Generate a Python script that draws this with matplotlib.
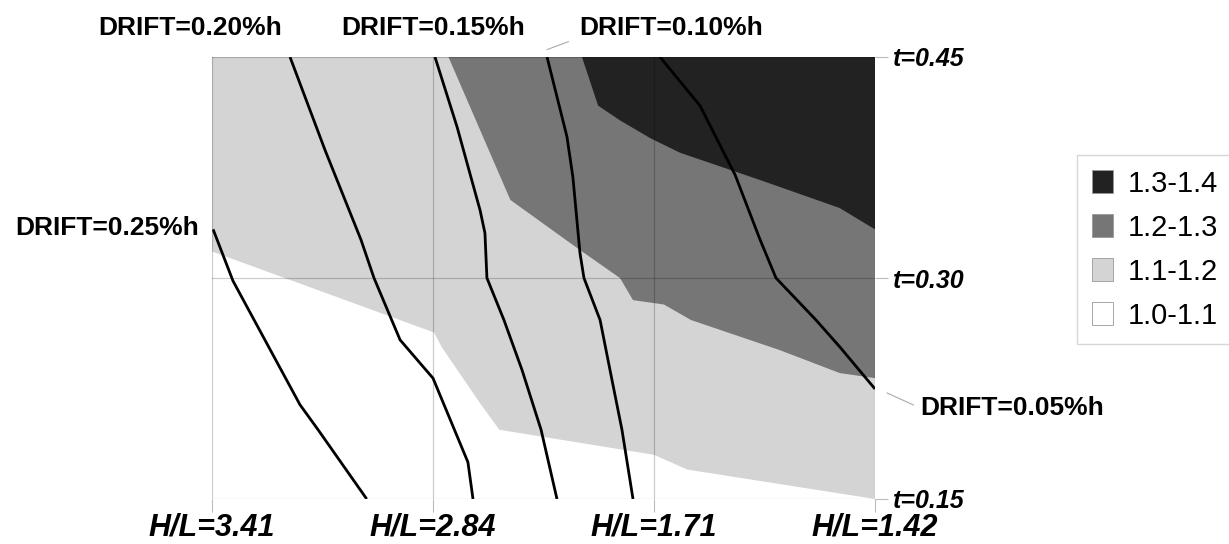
import matplotlib
matplotlib.use("Agg")
import matplotlib.pyplot as plt
from matplotlib.patches import Patch

# categories and levels
hl_labels = ['H/L=3.41', 'H/L=2.84', 'H/L=1.71', 'H/L=1.42']
t_values = [0.45, 0.30, 0.15]
t_labels = ['t=0.45', 't=0.30', 't=0.15']
bands = ['1.3-1.4', '1.2-1.3', '1.1-1.2', '1.0-1.1']
band_colors = ['#222222', '#767676', '#d4d4d4', '#ffffff']

# band boundaries (x = H/L column index, y = t)
white_x = [0.0, 1.005, 1.04, 1.213, 1.30, 2.0, 2.15, 3.0]
white_y = [0.318, 0.263, 0.253, 0.215, 0.197, 0.180, 0.170, 0.15]
mid_x = [1.07, 1.35, 1.60, 1.665, 1.846, 1.905, 2.045, 2.167, 2.57, 2.84, 3.0]
mid_y = [0.45, 0.353, 0.326, 0.319, 0.300, 0.285, 0.282, 0.2715, 0.251, 0.2355, 0.232]
dark_x = [1.674, 1.747, 1.846, 1.982, 2.118, 2.48, 2.84, 3.0]
dark_y = [0.45, 0.417, 0.407, 0.395, 0.385, 0.3665, 0.3475, 0.333]

# drift iso-lines
drift = {
    '0.25': ([0.005, 0.095, 0.398, 0.48, 0.70],
             [0.333, 0.298, 0.214, 0.197, 0.15]),
    '0.20': ([0.353, 0.511, 0.674, 0.733, 0.851, 1.0, 1.158, 1.181],
             [0.45, 0.387, 0.326, 0.300, 0.258, 0.232, 0.175, 0.15]),
    '0.15': ([1.009, 1.109, 1.213, 1.235, 1.244, 1.321, 1.403, 1.489, 1.561],
             [0.45, 0.4025, 0.346, 0.3305, 0.300, 0.2715, 0.2375, 0.197, 0.15]),
    '0.10': ([1.516, 1.606, 1.633, 1.665, 1.683, 1.756, 1.81, 1.855, 1.905],
             [0.45, 0.396, 0.3685, 0.317, 0.300, 0.2715, 0.2307, 0.197, 0.15]),
    '0.05': ([2.027, 2.208, 2.367, 2.48, 2.552, 2.733, 2.842, 3.0],
             [0.45, 0.417, 0.370, 0.326, 0.300, 0.2715, 0.253, 0.2247]),
}

x0, x1 = 0, len(hl_labels) - 1
y0, y1 = min(t_values), max(t_values)

fig = plt.figure(figsize=(12.29, 5.44), dpi=100)
ax = fig.add_axes([212 / 1229, 1 - 499 / 544, 663 / 1229, 442 / 544])

# bands
ax.fill([x0, x1, x1, x0], [y0, y0, y1, y1], color=band_colors[2], lw=0, zorder=1)
ax.fill(white_x + [x0], white_y + [y0], color=band_colors[3], lw=0, zorder=1)
ax.fill(mid_x + [x1], mid_y + [y1], color=band_colors[1], lw=0, zorder=1)
ax.fill(dark_x + [x1], dark_y + [y1], color=band_colors[0], lw=0, zorder=1)

for key, (xs, ys) in drift.items():
    ax.plot(xs, ys, color='black', lw=2.0, zorder=3, solid_capstyle='butt')

ax.set_xlim(x0, x1)
ax.set_ylim(y0, y1)
for s in ax.spines.values():
    s.set_visible(False)

ax.set_xticks(range(len(hl_labels)))
ax.set_xticklabels(hl_labels, fontsize=22, fontweight='bold', fontstyle='italic',
                   family='Liberation Sans')
ax.yaxis.tick_right()
ax.set_yticks(t_values)
ax.set_yticklabels(t_labels, fontsize=18, fontweight='bold', fontstyle='italic',
                   family='Liberation Sans')
ax.tick_params(axis='both', length=9, width=0.8, color='#bbbbbb')
ax.tick_params(axis='x', pad=1)
ax.tick_params(axis='y', pad=4)
ax.grid(True, color='black', alpha=0.2, lw=0.9)
ax.set_axisbelow(False)

# drift labels
lab = dict(fontsize=19, fontweight='bold', family='Liberation Sans', ha='center', va='center')
fig.text(190 / 1229, 1 - 28 / 544, 'DRIFT=0.20%h', **lab)
fig.text(433 / 1229, 1 - 28 / 544, 'DRIFT=0.15%h', **lab)
fig.text(107 / 1229, 1 - 228 / 544, 'DRIFT=0.25%h', **lab)
ax.annotate('DRIFT=0.10%h', xy=(drift['0.10'][0][0], 0.455), xycoords='data',
            xytext=(671 / 1229, 1 - 28 / 544), textcoords='figure fraction',
            annotation_clip=False,
            arrowprops=dict(arrowstyle='-', color='#aaaaaa', lw=0.8,
                            relpos=(0, 0.1), shrinkA=6, shrinkB=0), **lab)
ax.annotate('DRIFT=0.05%h', xy=(3.054, 0.222), xycoords='data',
            xytext=(1012 / 1229, 1 - 408 / 544), textcoords='figure fraction',
            annotation_clip=False,
            arrowprops=dict(arrowstyle='-', color='#aaaaaa', lw=0.8,
                            relpos=(0, 0.5), shrinkA=3, shrinkB=0), **lab)

# legend
handles = [Patch(facecolor=c, edgecolor='#999999', lw=0.6) for c in band_colors]
fig.legend(handles, bands, loc='upper left',
           bbox_to_anchor=(1077 / 1229, 1 - 155 / 544),
           prop={'family': 'Liberation Sans', 'size': 21},
           frameon=True, fancybox=False, edgecolor='#cccccc',
           handlelength=0.75, handleheight=0.8, handletextpad=0.5,
           labelspacing=0.55, borderpad=0.5, borderaxespad=0)

fig.savefig('out.png', dpi=100)
